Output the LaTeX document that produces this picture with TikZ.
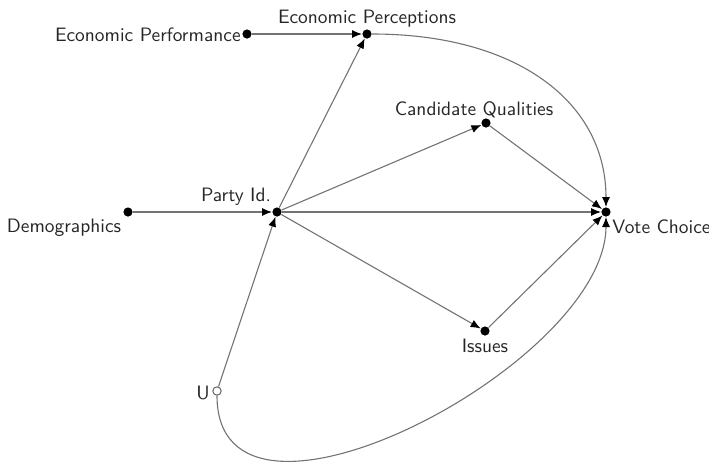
\documentclass[tikz,border=0pt]{standalone}
\usepackage{tikz}
\usetikzlibrary{arrows.meta}

\begin{document}
\begin{tikzpicture}[x=0.5pt, y=0.5pt,
    every node/.style={font=\sffamily\fontsize{9.7}{11.5}\selectfont, text=black!85},
    var/.style={circle, fill=black, inner sep=0pt, minimum size=4.6pt},
    latent/.style={circle, draw=black!60, fill=white, line width=0.5pt, inner sep=0pt, minimum size=4.2pt},
    lbl/.style={inner sep=0pt},
    edge/.style={draw=black!55, line width=0.55pt, -{Latex[length=5pt,width=4pt,color=black]}}]

    \useasboundingbox (0,0) rectangle (709,463);

    % variables
    \node[var] (perf) at (247,429) {};
    \node[var] (perc) at (367,429) {};
    \node[var] (cand) at (486,340) {};
    \node[var] (party) at (277,251) {};
    \node[var] (demo) at (128,251) {};
    \node[var] (vote) at (606,251) {};
    \node[var] (issues) at (485,132) {};
    \node[latent] (u) at (217,72) {};

    % labels
    \node[lbl, anchor=base east] (perf-l) at (241,422) {Economic Performance};
    \node[lbl, anchor=base] (perc-l) at (367,440) {Economic Perceptions};
    \node[lbl, anchor=base] (cand-l) at (474,348) {Candidate Qualities};
    \node[lbl, anchor=base] (party-l) at (236,262) {Party Id.};
    \node[lbl, anchor=base] (demo-l) at (64,231) {Demographics};
    \node[lbl, anchor=base west] (vote-l) at (612,230) {Vote Choice};
    \node[lbl, anchor=base] (issues-l) at (485,111) {Issues};
    \node[lbl, anchor=base east] (u-l) at (210,64) {U};

    % edges
    \draw[edge] (perf) -- (perc);
    \draw[edge] (party) -- (perc);
    \draw[edge] (party) -- (cand);
    \draw[edge] (party) -- (vote);
    \draw[edge] (party) -- (issues);
    \draw[edge] (cand) -- (vote);
    \draw[edge] (issues) -- (vote);
    \draw[edge] (demo) -- (party);
    \draw[edge] (u) -- (party);
    \draw[edge] (perc) .. controls +(150,0) and +(0,110) .. (vote);
    \draw[edge] (u) .. controls +(0,-176) and +(0,-153) .. (vote);
\end{tikzpicture}
\end{document}
